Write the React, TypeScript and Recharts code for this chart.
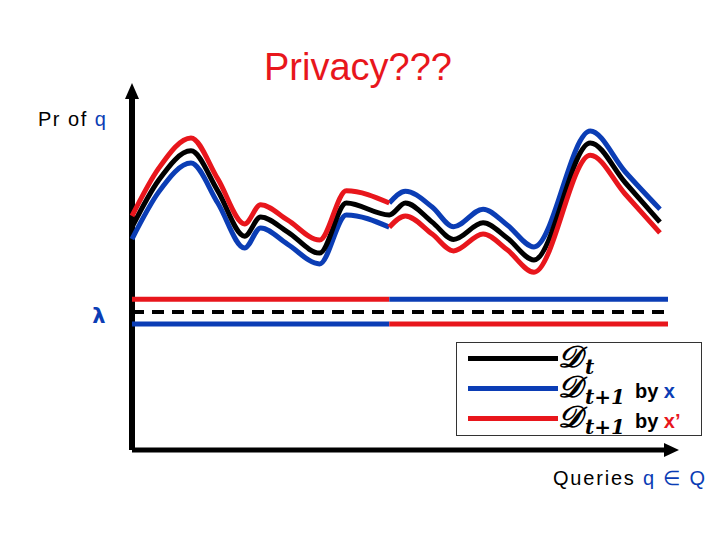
import React from "react";
import {
  ComposedChart,
  Line,
  XAxis,
  YAxis,
  ReferenceDot,
  ReferenceLine,
  Legend,
  Customized,
} from "recharts";

// Query positions (x) and probability values (y)
const queryPos = [0, 5, 11, 16, 21, 24, 29, 35, 40, 48, 51, 56, 60, 65.5, 70, 75, 85.5, 92, 98.5];
const prDt = [61.9, 75, 83.1, 72, 59.4, 64.7, 60.6, 54.7, 68.6, 65.3, 68.6, 63.3, 58.5, 63.1, 58.9, 52.8, 85.3, 74.3, 63.3];
// first part (indices 0..9) and second part (indices 9..18)
const prRedFirst = [65, 78.3, 86.7, 75.3, 62.8, 68.1, 63.9, 58.3, 72, 68.6];
const prBlueFirst = [58.6, 71.7, 79.7, 68.6, 56.1, 61.7, 57.2, 51.7, 65.3, 61.9];
const prBlueSecond = [68.6, 71.9, 67.5, 62, 66.9, 62.5, 56.4, 88.6, 77.3, 66.9];
const prRedSecond = [61.9, 65, 60, 55.3, 60, 55.6, 49.4, 81.9, 71.1, 60.3];
const splitIndex = 9;

// threshold lines
const lambdaStart = 0;
const lambdaSplit = 48;
const lambdaEnd = 100;
const lambdaValue = 38.3;
const lambdaUpper = 41.9;
const lambdaLower = 35;

const RED = "#e8161c";
const BLUE = "#0b3db5";

const data = queryPos.map((q, i) => ({
  q,
  dt: prDt[i],
  redA: i <= splitIndex ? prRedFirst[i] : null,
  blueA: i <= splitIndex ? prBlueFirst[i] : null,
  redB: i >= splitIndex ? prRedSecond[i - splitIndex] : null,
  blueB: i >= splitIndex ? prBlueSecond[i - splitIndex] : null,
}));

const seg = (a: number, b: number, v: number) => [
  { q: a, v },
  { q: b, v },
];

const upperRed = seg(lambdaStart, lambdaSplit, lambdaUpper);
const upperBlue = seg(lambdaSplit, lambdaEnd, lambdaUpper);
const lowerBlue = seg(lambdaStart, lambdaSplit, lambdaLower);
const lowerRed = seg(lambdaSplit, lambdaEnd, lambdaLower);
const lambdaLine = seg(lambdaStart, lambdaEnd, lambdaValue);

const Overlay = () => (
  <g>
    <text x={358} y={80} textAnchor="middle" fill={RED} fontSize={38} fontFamily="Liberation Sans, Arial, sans-serif">
      Privacy???
    </text>
    <text x={38} y={126} fill="#000" fontSize={20} letterSpacing={1.5} fontFamily="Liberation Sans, Arial, sans-serif">
      Pr of <tspan fill={BLUE}>q</tspan>
    </text>
    <text x={99} y={323} textAnchor="middle" fill={BLUE} fontSize={21} fontWeight="bold" fontFamily="DejaVu Sans, sans-serif">
      λ
    </text>
    <text x={553} y={485} fill="#000" fontSize={20} letterSpacing={1.8} fontFamily="Liberation Sans, Arial, sans-serif">
      Queries <tspan fill={BLUE}>q ∈ Q</tspan>
    </text>
  </g>
);

const legendRows = [
  { color: "#000", sub: "t", by: "", byColor: "#000" },
  { color: BLUE, sub: "t+1", by: "x", byColor: BLUE },
  { color: RED, sub: "t+1", by: "x’", byColor: RED },
];

const LegendBox = () => (
  <div
    style={{
      position: "relative",
      width: 246,
      height: 94,
      border: "1px solid #333",
      boxSizing: "border-box",
      background: "#fff",
    }}
  >
    {legendRows.map((r, i) => {
      const cy = 16 + i * 30;
      return (
        <React.Fragment key={i}>
          <div
            style={{
              position: "absolute",
              left: 11,
              top: cy - 3,
              width: 90,
              height: 5,
              background: r.color,
            }}
          />
          <div
            style={{
              position: "absolute",
              left: 101,
              top: cy - 17,
              height: 30,
              whiteSpace: "nowrap",
              lineHeight: "30px",
            }}
          >
            <span style={{ fontFamily: "DejaVu Serif, serif", fontSize: 30, fontStyle: "italic", fontWeight: "bold" }}>𝒟</span>
            <span
              style={{
                fontFamily: "DejaVu Serif, serif",
                fontSize: 20,
                fontStyle: "italic",
                fontWeight: "bold",
                position: "relative",
                top: 7,
                marginLeft: 3,
              }}
            >
              {r.sub}
            </span>
            {r.by ? (
              <span
                style={{
                  fontFamily: "Liberation Sans, Arial, sans-serif",
                  fontSize: 20,
                  fontWeight: "bold",
                  marginLeft: 10,
                  position: "relative",
                  top: 1,
                }}
              >
                by <span style={{ color: r.byColor }}>{r.by}</span>
              </span>
            ) : null}
          </div>
        </React.Fragment>
      );
    })}
  </div>
);

const ArrowUp = (props: any) => {
  const { cx, cy } = props;
  return <polygon points={`${cx},${cy - 7} ${cx - 7},${cy + 9} ${cx + 7},${cy + 9}`} fill="#000" />;
};
const ArrowRight = (props: any) => {
  const { cx, cy } = props;
  return <polygon points={`${cx + 11},${cy} ${cx - 4},${cy - 7} ${cx - 4},${cy + 7}`} fill="#000" />;
};

export default function App() {
  return (
    <div style={{ position: "absolute", left: 0, top: 0, width: 720, height: 540, background: "#fff" }}>
      <ComposedChart
        width={720}
        height={540}
        data={data}
        margin={{ top: 90, right: 52, bottom: 90, left: 132 }}
      >
        <XAxis type="number" dataKey="q" domain={[0, 100]} hide />
        <YAxis type="number" domain={[0, 100]} hide />

        <ReferenceLine x={0} stroke="#000" strokeWidth={6} ifOverflow="visible" />
        <ReferenceLine y={0} stroke="#000" strokeWidth={5} ifOverflow="visible" />

        <Line data={upperRed} dataKey="v" stroke={RED} strokeWidth={5} dot={false} type="linear" isAnimationActive={false} />
        <Line data={upperBlue} dataKey="v" stroke={BLUE} strokeWidth={5} dot={false} type="linear" isAnimationActive={false} />
        <Line data={lambdaLine} dataKey="v" stroke="#000" strokeWidth={4} strokeDasharray="12 8" dot={false} type="linear" isAnimationActive={false} />
        <Line data={lowerBlue} dataKey="v" stroke={BLUE} strokeWidth={5} dot={false} type="linear" isAnimationActive={false} />
        <Line data={lowerRed} dataKey="v" stroke={RED} strokeWidth={5} dot={false} type="linear" isAnimationActive={false} />

        <Line dataKey="blueA" stroke={BLUE} strokeWidth={5} dot={false} type="monotone" connectNulls={false} isAnimationActive={false} />
        <Line dataKey="blueB" stroke={BLUE} strokeWidth={5} dot={false} type="monotone" connectNulls={false} isAnimationActive={false} />
        <Line dataKey="dt" stroke="#000" strokeWidth={5} dot={false} type="monotone" isAnimationActive={false} />
        <Line dataKey="redA" stroke={RED} strokeWidth={5} dot={false} type="monotone" connectNulls={false} isAnimationActive={false} />
        <Line dataKey="redB" stroke={RED} strokeWidth={5} dot={false} type="monotone" connectNulls={false} isAnimationActive={false} />

        <ReferenceDot x={0} y={100} r={0} shape={ArrowUp} />
        <ReferenceDot x={100} y={0} r={0} shape={ArrowRight} />

        <Legend
          layout="horizontal"
          verticalAlign="middle"
          align="center"
          content={() => <LegendBox />}
          wrapperStyle={{ position: "absolute", left: 456, top: 342, width: 246, height: 94 }}
        />
        <Customized component={Overlay} />
      </ComposedChart>
    </div>
  );
}
